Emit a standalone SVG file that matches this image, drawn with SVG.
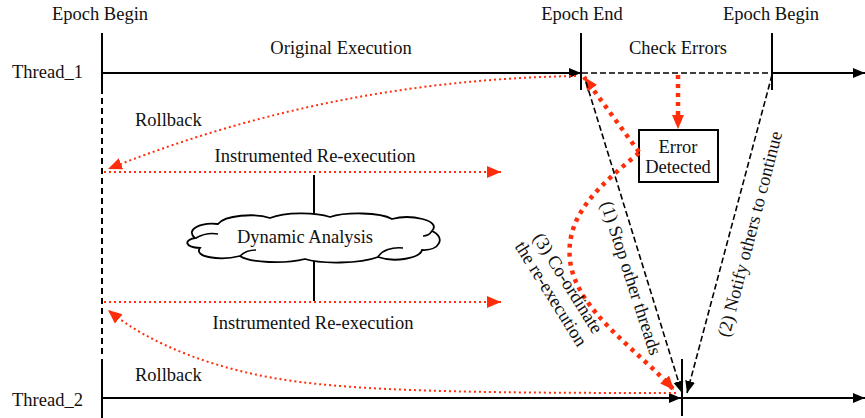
<svg xmlns="http://www.w3.org/2000/svg" width="865" height="418" viewBox="0 0 865 418">
<style>
text{font-family:"Liberation Serif","Times New Roman",serif;font-size:18.5px;fill:#111}
.c{text-anchor:middle}
.ln{stroke:#000;stroke-width:2;fill:none}
.dash{stroke:#000;stroke-width:1.6;fill:none;stroke-dasharray:6 3}
.rd{stroke:#ff2d0a;stroke-width:2;fill:none;stroke-dasharray:2 3}
.rt{stroke:#ff2d0a;stroke-width:4.5;fill:none;stroke-dasharray:4 5}
</style>
<defs>
<marker id="ab" markerUnits="userSpaceOnUse" markerWidth="13" markerHeight="11" refX="12" refY="5" orient="auto"><path d="M0,0 L12,5 L0,10 z" fill="#000"/></marker>
<marker id="ar" markerUnits="userSpaceOnUse" markerWidth="15" markerHeight="13" refX="14" refY="6" orient="auto"><path d="M0,0 L14,6 L0,12 z" fill="#ff2d0a"/></marker>
</defs>

<g id="labels">
<text class="c" x="100" y="20">Epoch Begin</text>
<text class="c" x="582" y="20">Epoch End</text>
<text class="c" x="771" y="20">Epoch Begin</text>
<text class="c" x="341" y="54">Original Execution</text>
<text class="c" x="678" y="54">Check Errors</text>
<text x="12" y="78">Thread_1</text>
<text x="12" y="406">Thread_2</text>
<text x="135" y="126">Rollback</text>
<text x="135" y="381">Rollback</text>
<text class="c" x="315" y="162">Instrumented Re-execution</text>
<text class="c" x="313" y="329">Instrumented Re-execution</text>
</g>

<g id="timelines">
<line class="ln" x1="102" y1="33" x2="102" y2="88"/>
<line x1="102" y1="88" x2="102" y2="356" stroke="#000" stroke-width="2" stroke-dasharray="6 4"/>
<line class="ln" x1="102" y1="359" x2="102" y2="418"/>
<line class="ln" x1="581" y1="33" x2="581" y2="90"/>
<line class="ln" x1="772" y1="33" x2="772" y2="90"/>
<line class="ln" x1="682" y1="359" x2="682" y2="416"/>
<line class="ln" x1="103" y1="73" x2="581" y2="73" marker-end="url(#ab)"/>
<line class="dash" x1="582" y1="73" x2="772" y2="73"/>
<line class="ln" x1="772" y1="73" x2="865" y2="73" marker-end="url(#ab)"/>
<line class="ln" x1="103" y1="398" x2="681" y2="398" marker-end="url(#ab)"/>
<line class="ln" x1="682" y1="398" x2="865" y2="398" marker-end="url(#ab)"/>
<line class="ln" x1="314" y1="175" x2="314" y2="216"/>
<line class="ln" x1="314" y1="260" x2="314" y2="301"/>
</g>

<g id="error-detected">
<rect x="639" y="130" width="79" height="52" fill="#fff" stroke="#000" stroke-width="2"/>
<text class="c" x="678" y="153">Error</text>
<text class="c" x="678" y="173">Detected</text>
</g>

<g id="dynamic-analysis">
<path d="M195,238 C185,230 200,222 218,224 C225,215 255,213 270,218 C285,212 315,212 330,217 C345,212 380,212 392,219 C410,214 442,220 432,231 C446,237 440,251 422,250 C420,258 395,263 378,257 C360,264 320,264 305,259 C285,264 250,263 240,256 C220,261 193,257 200,248 C184,247 184,240 195,238 Z" fill="#fff" stroke="#000" stroke-width="1.8"/>
<path d="M196,238 C203,234 212,233 218,234 M378,257 C382,250 392,247 403,248 M432,231 C430,234 426,236 423,236 M240,256 C244,252 250,250 256,250" fill="none" stroke="#000" stroke-width="1.6"/>
<text class="c" x="305" y="243">Dynamic Analysis</text>
</g>

<g id="connectors">
<path class="rd" d="M576,76 Q330,80 108,169" marker-end="url(#ar)"/>
<line class="rd" x1="104" y1="172" x2="501" y2="172" marker-end="url(#ar)"/>
<line class="rd" x1="104" y1="302" x2="501" y2="302" marker-end="url(#ar)"/>
<path class="rd" d="M676,393 C500,393 380,392 300,382 C220,372 150,345 108,310" marker-end="url(#ar)"/>
<line class="rt" x1="678" y1="75" x2="678" y2="129" marker-end="url(#ar)"/>
<line class="rt" x1="639" y1="152" x2="584" y2="77" marker-end="url(#ar)"/>
<path class="rt" d="M639,153 C600,185 565,215 570,260 C575,310 640,352 674,390" marker-end="url(#ar)"/>
<line class="dash" x1="586" y1="82" x2="682" y2="393" marker-end="url(#ab)"/>
<line class="dash" x1="772" y1="75" x2="687" y2="393" marker-end="url(#ab)"/>
</g>

<g id="step-labels">
<text class="c" transform="translate(631,278) rotate(72)" x="0" y="6">(1) Stop other threads</text>
<text class="c" transform="translate(750,234) rotate(-75.5)" x="0" y="6">(2) Notify others to continue</text>
<text class="c" transform="translate(559.5,288.5) rotate(58)"><tspan x="0" y="-4">(3) Co-ordinate</tspan><tspan x="0" y="16">the re-execution</tspan></text>
</g>
</svg>
